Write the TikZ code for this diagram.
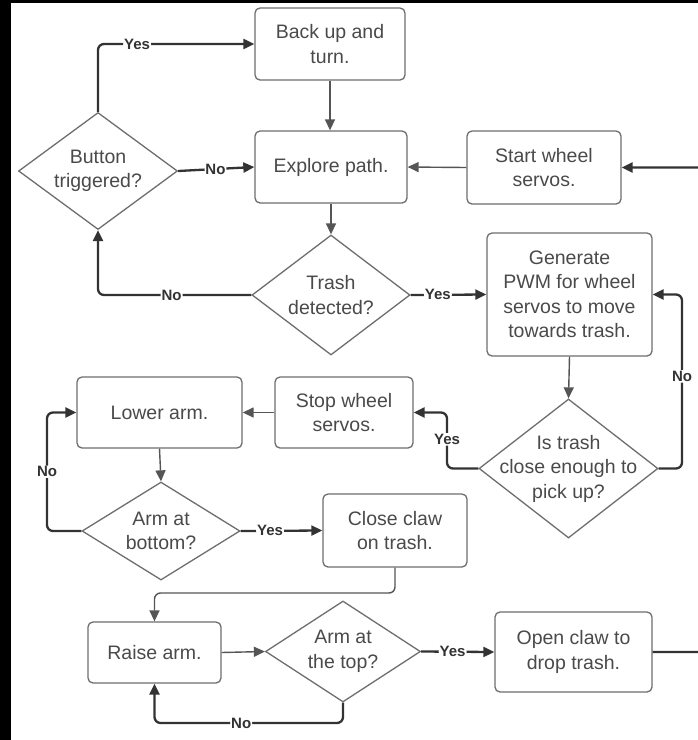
\documentclass[tikz,border=0pt]{standalone}
\usepackage{fontspec}
\setmainfont{Liberation Sans}
\usetikzlibrary{arrows.meta,shapes.geometric,calc}
\definecolor{boxline}{HTML}{6E6E6E}
\definecolor{txtcol}{HTML}{4A4A4A}
\definecolor{conn}{HTML}{333333}
\definecolor{thinconn}{HTML}{555555}
\tikzset{
  stepbox/.style={draw=boxline, line width=1.3pt, rounded corners=5pt, fill=white,
    inner sep=0pt, align=center, text=txtcol,
    font=\fontsize{19.5}{24.5}\selectfont},
  dia/.style={draw=boxline, line width=1.3pt, shape=diamond, inner sep=0pt, fill=white},
  diatext/.style={align=center, text=txtcol, inner sep=0pt,
    font=\fontsize{19.5}{24.5}\selectfont},
  dec/.style={draw=conn, line width=2.3pt, rounded corners=6pt,
    -{Triangle[length=11pt,width=10pt]}},
  flow/.style={draw=thinconn, line width=1.4pt, rounded corners=6pt,
    -{Triangle[length=11pt,width=10pt]}},
  lab/.style={fill=white, inner sep=1pt, text=conn,
    font=\fontsize{15}{17}\selectfont\bfseries},
}
\begin{document}
\begin{tikzpicture}[x=1pt,y=-1pt]
\useasboundingbox (0,0) rectangle (698,740);
\fill[white] (0,0) rectangle (698,740);
\fill[black] (0,0) rectangle (11,740);
\fill[black] (0,0) rectangle (698,3);

% boxes
\node[stepbox, minimum width=150pt, minimum height=72pt] (back) at (330,44) {Back up and\\turn.};
\node[stepbox, minimum width=152pt, minimum height=72pt] (explore) at (331,167) {Explore path.};
\node[stepbox, minimum width=154pt, minimum height=73pt] (start) at (544,167.5) {Start wheel\\servos.};
\node[stepbox, minimum width=165pt, minimum height=123pt] (pwm) at (569.5,294.5) {Generate\\PWM for wheel\\servos to move\\towards trash.};
\node[stepbox, minimum width=165pt, minimum height=71pt] (lower) at (159.5,412.5) {Lower arm.};
\node[stepbox, minimum width=138pt, minimum height=71pt] (stop) at (344,412.5) {Stop wheel\\servos.};
\node[stepbox, minimum width=144pt, minimum height=73pt] (close) at (395,530.5) {Close claw\\on trash.};
\node[stepbox, minimum width=133pt, minimum height=61pt] (raise) at (154.5,652.5) {Raise arm.};
\node[stepbox, minimum width=157pt, minimum height=80pt] (open) at (573.5,652) {Open claw to\\drop trash.};

% decisions
\node[dia, minimum width=159pt, minimum height=117pt] (bt) at (98,171) {};
\node[diatext] (btt) at (bt) {Button\\triggered?};
\node[dia, minimum width=158pt, minimum height=120pt] (td) at (331,295) {};
\node[diatext] (tdt) at (td) {Trash\\detected?};
\node[dia, minimum width=179pt, minimum height=139pt] (ce) at (568.5,468.5) {};
\node[diatext] (cet) at (ce) {Is trash\\close enough to\\pick up?};
\node[dia, minimum width=158pt, minimum height=98pt] (ab) at (161,531) {};
\node[diatext] (abt) at (ab) {Arm at\\bottom?};
\node[dia, minimum width=155pt, minimum height=101pt] (at) at (343,651.5) {};
\node[diatext] (att) at (at) {Arm at\\the top?};

% helper coordinates
\coordinate (yb) at (447,412.5);
\coordinate (nb) at (682,294.5);
\coordinate (nl) at (47,412.5);
\coordinate (cr) at (395,593);
\coordinate (nr) at (343,723);
\coordinate (rb) at (712,652);
\coordinate (rt) at (712,167.5);

% connectors
\draw[dec] (bt.north) |- node[lab,pos=0.625]{Yes} (back.west);
\draw[dec] (bt.east) -- node[lab,pos=0.49]{No} (explore.west);
\draw[flow] (back.south) -- (back.south |- explore.north);
\draw[flow] (explore.south) -- (td.north);
\draw[flow] (start.west) -- (explore.east);
\draw[dec] (td.west) -| node[lab,pos=0.26]{No} (bt.south);
\draw[dec] (td.east) -- node[lab,pos=0.36]{Yes} (pwm.west);
\draw[flow] (pwm.south) -- (ce.north);
\draw[dec] (ce.west) -| node[lab,pos=0.76]{Yes} (yb) -- (stop.east);
\draw[dec] (ce.east) -| node[lab,pos=0.765]{No} (nb) -- (pwm.east);
\draw[flow] (stop.west) -- (lower.east);
\draw[flow] (lower.south) -- (ab.north);
\draw[dec] (ab.west) -| node[lab,pos=0.75]{No} (nl) -- (lower.west);
\draw[dec] (ab.east) -- node[lab,pos=0.36]{Yes} (close.west);
\draw[flow] (close.south) -- (cr) -| (raise.north);
\draw[flow] (raise.east) -- (at.west);
\draw[dec] (at.south) -- (nr) -| node[lab,pos=0.27]{No} (raise.south);
\draw[dec] (at.east) -- node[lab,pos=0.43]{Yes} (open.west);
\draw[dec] (open.east) -- (rb) -- (rt) -- (start.east);
\end{tikzpicture}
\end{document}
